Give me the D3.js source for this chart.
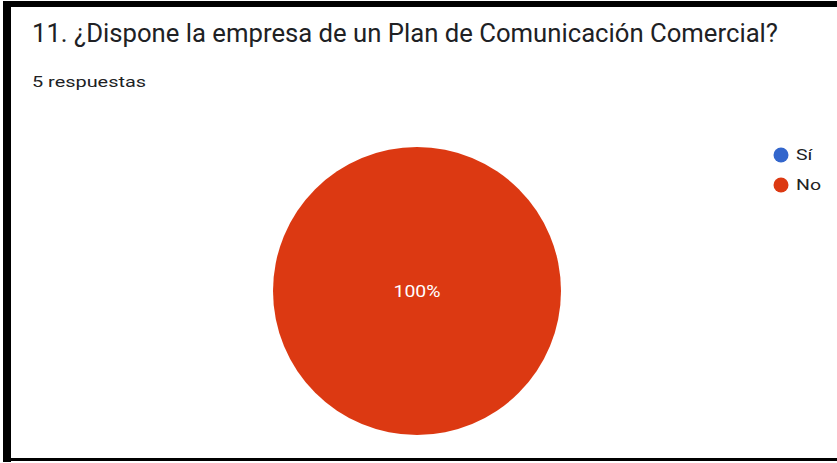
<!DOCTYPE html>
<html>
<head>
<meta charset="utf-8">
<script src="https://cdn.jsdelivr.net/npm/d3@7"></script>
<style>
  html, body { margin: 0; padding: 0; background: #ffffff; }
  svg { display: block; }
</style>
</head>
<body>
<svg id="chart" width="837" height="463"></svg>
<script>
// Survey answers
const categories = ["Sí", "No"];
const responses = [0, 5];
const colors = ["#3366cc", "#dc3912"];
const titleText = "11. ¿Dispone la empresa de un Plan de Comunicación Comercial?";
const subtitleText = "5 respuestas";

const W = 837, H = 463;
const svg = d3.select("#chart");

// card frame
svg.append("rect").attr("x", 0).attr("y", 0).attr("width", W).attr("height", H).attr("fill", "#ffffff");
svg.append("rect").attr("x", 3).attr("y", 1).attr("width", W - 3).attr("height", 6).attr("fill", "#000");
svg.append("rect").attr("x", 3).attr("y", 1).attr("width", 8).attr("height", H - 2).attr("fill", "#000");
svg.append("rect").attr("x", 3).attr("y", H - 5).attr("width", W - 3).attr("height", 3).attr("fill", "#000");

// header text, fitted to the card width
svg.append("text")
  .attr("x", 32).attr("y", 42)
  .attr("font-family", "Roboto, sans-serif")
  .attr("font-size", 25)
  .attr("fill", "#202124")
  .attr("textLength", 746)
  .attr("lengthAdjust", "spacingAndGlyphs")
  .text(titleText);

svg.append("text")
  .attr("x", 32).attr("y", 87)
  .attr("font-family", "Roboto, sans-serif")
  .attr("font-size", 15)
  .attr("fill", "#202124")
  .attr("textLength", 114)
  .attr("lengthAdjust", "spacingAndGlyphs")
  .text(subtitleText);

// pie
const cx = 417, cy = 291, r = 144;
const total = d3.sum(responses);
const pie = d3.pie().sort(null).value(d => d.value);
const data = categories.map((c, i) => ({ name: c, value: responses[i], color: colors[i] }));
const arcs = pie(data);
const arc = d3.arc().innerRadius(0).outerRadius(r);
const midArc = d3.arc().innerRadius(r * 0.6).outerRadius(r * 0.6);

const g = svg.append("g").attr("transform", `translate(${cx},${cy})`);
g.selectAll("path")
  .data(arcs.filter(a => a.data.value > 0))
  .join("path")
  .attr("d", arc)
  .attr("fill", d => d.data.color);

g.selectAll("text.pct")
  .data(arcs.filter(a => a.data.value > 0))
  .join("text")
  .attr("class", "pct")
  .attr("transform", d => (d.endAngle - d.startAngle) >= 2 * Math.PI - 1e-6
    ? "translate(0,0)"
    : `translate(${midArc.centroid(d)})`)
  .attr("text-anchor", "middle")
  .attr("dy", "0.35em")
  .attr("font-family", "Roboto, Arial, sans-serif")
  .attr("font-size", 16)
  .attr("fill", "#ffffff")
  .attr("textLength", 47)
  .attr("lengthAdjust", "spacingAndGlyphs")
  .text(d => d3.format(".0%")(d.data.value / total));

// legend
const legend = svg.append("g").attr("transform", "translate(781,155)");
const items = legend.selectAll("g")
  .data(data)
  .join("g")
  .attr("transform", (d, i) => `translate(0,${i * 30})`);
items.append("circle").attr("r", 7.5).attr("fill", d => d.color);
items.append("text")
  .attr("transform", "translate(15,0) scale(1.3,1)")
  .attr("dy", "0.36em")
  .attr("font-family", "Roboto, Arial, sans-serif")
  .attr("font-size", 15)
  .attr("fill", "#222222")
  .text(d => d.name);
</script>
</body>
</html>
